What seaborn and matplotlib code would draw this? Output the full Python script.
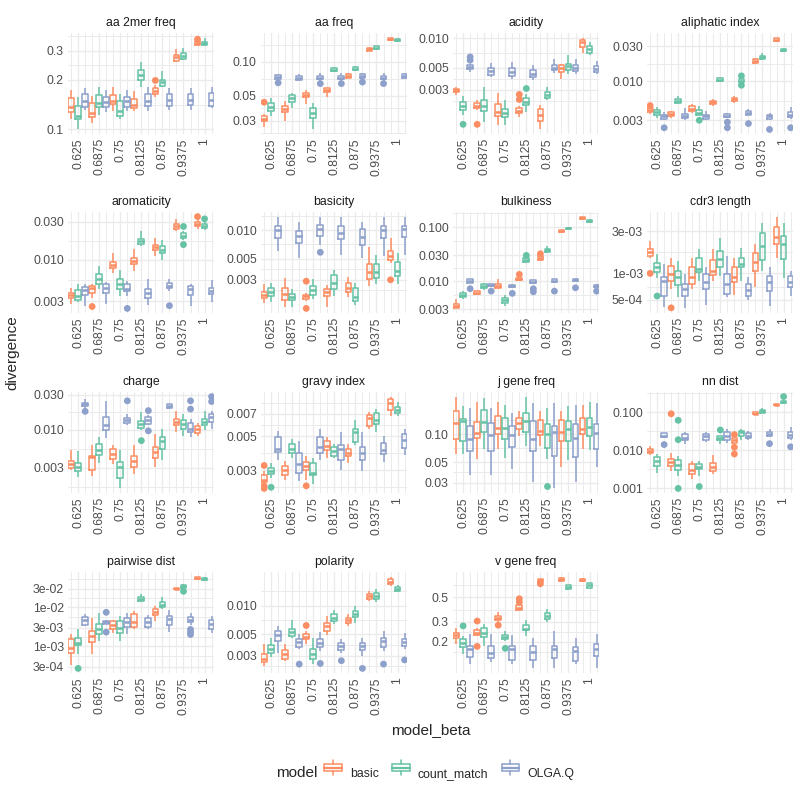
import numpy as np
import pandas as pd
import matplotlib
matplotlib.use("Agg")
import matplotlib.pyplot as plt
import seaborn as sns
from matplotlib.legend_handler import HandlerBase
from matplotlib.patches import Rectangle, Patch
from matplotlib.lines import Line2D
from matplotlib.ticker import NullFormatter

sns.set_theme(style="white")
plt.rcParams["font.family"] = ["Liberation Sans", "DejaVu Sans"]

betas = [0.625, 0.6875, 0.75, 0.8125, 0.875, 0.9375, 1.0]
beta_labels = ["0.625", "0.6875", "0.75", "0.8125", "0.875", "0.9375", "1"]
models = ["basic", "count_match", "OLGA.Q"]
colors = ["#FC8D62", "#66C2A5", "#8DA0CB"]

# each box: (lower whisker, q1, median, q3, upper whisker); one box per beta
# outliers: (model, beta, value)

aa2mer_basic = [(0.116, 0.127, 0.136, 0.155, 0.173), (0.110, 0.119, 0.126, 0.144, 0.160), (0.129, 0.143, 0.148, 0.162, 0.180), (0.129, 0.135, 0.140, 0.153, 0.172), (0.158, 0.165, 0.172, 0.177, 0.185), (0.256, 0.261, 0.274, 0.283, 0.307), (0.322, 0.324, 0.332, 0.341, 0.345)]
aa2mer_count = [(0.100, 0.115, 0.120, 0.138, 0.158), (0.123, 0.137, 0.144, 0.162, 0.180), (0.116, 0.120, 0.129, 0.148, 0.165), (0.180, 0.200, 0.213, 0.230, 0.256), (0.180, 0.183, 0.194, 0.200, 0.226), (0.262, 0.268, 0.280, 0.289, 0.310), (0.321, 0.324, 0.332, 0.338, 0.360)]
aa2mer_olga = [(0.132, 0.137, 0.148, 0.163, 0.177), (0.127, 0.137, 0.146, 0.158, 0.173), (0.129, 0.137, 0.148, 0.158, 0.173), (0.129, 0.138, 0.148, 0.163, 0.180), (0.132, 0.138, 0.150, 0.164, 0.177), (0.132, 0.141, 0.150, 0.165, 0.177), (0.134, 0.139, 0.150, 0.167, 0.181)]
aa2mer_out = [("basic", 0.875, 0.198), ("basic", 1.0, 0.352)]
aa2mer_ticks = [0.1, 0.2, 0.3]
aa2mer_labels = ["0.1", "0.2", "0.3"]

aafreq_basic = [(0.0265, 0.0297, 0.0313, 0.0329, 0.0344), (0.0297, 0.0356, 0.0383, 0.0407, 0.0453), (0.0423, 0.0484, 0.0507, 0.0531, 0.056), (0.049, 0.0542, 0.056, 0.0579, 0.059), (0.071, 0.0722, 0.075, 0.077, 0.0792), (0.123, 0.1246, 0.128, 0.1306, 0.133), (0.152, 0.154, 0.157, 0.1606, 0.163)]
aafreq_count = [(0.0333, 0.0368, 0.0401, 0.0435, 0.0474), (0.0388, 0.0444, 0.0474, 0.0507, 0.0524), (0.0252, 0.0318, 0.0351, 0.0388, 0.0429), (0.081, 0.082, 0.0847, 0.0875, 0.089), (0.0825, 0.0836, 0.0865, 0.089, 0.091), (0.129, 0.1305, 0.1332, 0.136, 0.138), (0.151, 0.153, 0.156, 0.159, 0.161)]
aafreq_olga = [(0.068, 0.070, 0.073, 0.076, 0.078), (0.067, 0.069, 0.071, 0.074, 0.078), (0.068, 0.070, 0.072, 0.075, 0.079), (0.068, 0.070, 0.072, 0.075, 0.079), (0.070, 0.071, 0.074, 0.077, 0.080), (0.068, 0.070, 0.072, 0.075, 0.079), (0.070, 0.072, 0.074, 0.077, 0.080)]
aafreq_out = [("basic", 0.625, 0.0438), ("OLGA.Q", 0.625, 0.065), ("OLGA.Q", 0.75, 0.064), ("OLGA.Q", 0.8125, 0.064), ("OLGA.Q", 0.875, 0.066), ("OLGA.Q", 0.9375, 0.064)]
aafreq_ticks = [0.03, 0.05, 0.1]
aafreq_labels = ["0.03", "0.05", "0.10"]

acid_basic = [(0.00266, 0.00287, 0.00298, 0.0031, 0.0032), (0.00188, 0.00195, 0.00206, 0.00219, 0.00237), (0.00133, 0.00164, 0.00181, 0.00216, 0.0028), (0.00161, 0.00174, 0.00184, 0.00195, 0.00206), (0.0012, 0.00147, 0.00168, 0.00191, 0.00211), (0.00385, 0.00456, 0.005, 0.00532, 0.0055), (0.0071, 0.0081, 0.0091, 0.0096, 0.0101)]
acid_count = [(0.00168, 0.00188, 0.00206, 0.00228, 0.0026), (0.00144, 0.00184, 0.00206, 0.00237, 0.00318), (0.00133, 0.00161, 0.00177, 0.00191, 0.00237), (0.00181, 0.00211, 0.00228, 0.00246, 0.00272), (0.00237, 0.00246, 0.00266, 0.00287, 0.00318), (0.00439, 0.00474, 0.0052, 0.00553, 0.0067), (0.0067, 0.00713, 0.00782, 0.0083, 0.0091)]
acid_olga = [(0.00456, 0.00485, 0.00512, 0.00532, 0.0055), (0.00406, 0.00422, 0.00467, 0.005, 0.00561), (0.0039, 0.00413, 0.00456, 0.005, 0.0057), (0.00376, 0.00406, 0.00439, 0.00481, 0.00532), (0.00445, 0.00474, 0.005, 0.00532, 0.0061), (0.00432, 0.00467, 0.005, 0.00532, 0.0061), (0.00432, 0.00456, 0.00492, 0.00524, 0.0058)]
acid_out = [("basic", 0.6875, 0.00135), ("basic", 0.8125, 0.0027), ("basic", 0.8125, 0.0024), ("count_match", 0.625, 0.00135), ("count_match", 0.8125, 0.0031), ("OLGA.Q", 0.625, 0.00645), ("OLGA.Q", 0.625, 0.00597)]
acid_ticks = [0.003, 0.005, 0.01]
acid_labels = ["0.003", "0.005", "0.010"]

aliph_basic = [(0.0037, 0.00385, 0.00418, 0.0044, 0.0045), (0.00323, 0.0034, 0.00362, 0.00385, 0.0040), (0.00377, 0.00397, 0.00431, 0.00463, 0.0050), (0.0047, 0.00503, 0.00524, 0.00551, 0.0058), (0.0051, 0.00551, 0.00574, 0.00598, 0.0063), (0.0173, 0.018, 0.0189, 0.0199, 0.021), (0.0335, 0.035, 0.0365, 0.038, 0.039)]
aliph_count = [(0.00323, 0.00358, 0.00385, 0.00418, 0.0045), (0.005, 0.00513, 0.00551, 0.00586, 0.0063), (0.0035, 0.00358, 0.00377, 0.0041, 0.0046), (0.0097, 0.010, 0.0105, 0.0111, 0.0114), (0.0094, 0.0097, 0.0102, 0.0107, 0.011), (0.0195, 0.0201, 0.0212, 0.0221, 0.024), (0.0247, 0.0255, 0.0263, 0.0271, 0.0285)]
aliph_olga = [(0.003, 0.00317, 0.0034, 0.00358, 0.0039), (0.00307, 0.00323, 0.00347, 0.00369, 0.0044), (0.003, 0.00317, 0.0034, 0.00358, 0.0040), (0.0032, 0.0033, 0.00347, 0.00365, 0.0038), (0.0035, 0.00358, 0.00377, 0.00405, 0.0042), (0.003, 0.00317, 0.0034, 0.00358, 0.0038), (0.0031, 0.00333, 0.00358, 0.00389, 0.0045)]
aliph_out = [("basic", 0.625, 0.00473), ("count_match", 0.75, 0.003), ("count_match", 0.875, 0.0119), ("count_match", 0.875, 0.0089), ("OLGA.Q", 0.625, 0.00238), ("OLGA.Q", 0.8125, 0.00283), ("OLGA.Q", 0.8125, 0.00238), ("OLGA.Q", 0.875, 0.00271), ("OLGA.Q", 0.9375, 0.00226), ("OLGA.Q", 1.0, 0.00238)]
aliph_ticks = [0.003, 0.01, 0.03]
aliph_labels = ["0.003", "0.010", "0.030"]

arom_basic = [(0.00275, 0.00324, 0.00356, 0.00385, 0.00444), (0.00333, 0.00385, 0.00436, 0.00466, 0.0049), (0.00683, 0.00773, 0.0085, 0.0093, 0.0121), (0.00716, 0.00866, 0.0095, 0.0105, 0.0136), (0.0110, 0.0131, 0.0144, 0.0154, 0.0186), (0.0230, 0.0243, 0.026, 0.0278, 0.0321), (0.0243, 0.0267, 0.0278, 0.0292, 0.0321)]
arom_count = [(0.00289, 0.00309, 0.0035, 0.0041, 0.0049), (0.00423, 0.00489, 0.00564, 0.0065, 0.00826), (0.00343, 0.00431, 0.00489, 0.00575, 0.00729), (0.0147, 0.0158, 0.0169, 0.01825, 0.0225), (0.010, 0.0119, 0.0133, 0.0147, 0.0177), (0.0177, 0.0186, 0.0199, 0.0215, 0.0225), (0.0236, 0.0248, 0.026, 0.0278, 0.0292)]
arom_olga = [(0.00263, 0.00356, 0.0041, 0.00453, 0.00489), (0.0028, 0.00385, 0.00444, 0.00489, 0.0052), (0.0035, 0.0040, 0.00432, 0.00489, 0.0054), (0.00267, 0.00333, 0.00377, 0.00432, 0.00575), (0.004, 0.00436, 0.00466, 0.00504, 0.00575), (0.00257, 0.00356, 0.00423, 0.00466, 0.0049), (0.00289, 0.00367, 0.0040, 0.00444, 0.00548)]
arom_out = [("basic", 0.6875, 0.00257), ("basic", 1.0, 0.0346), ("count_match", 0.9375, 0.026), ("count_match", 0.9375, 0.0154), ("count_match", 1.0, 0.0324), ("OLGA.Q", 0.75, 0.00243), ("OLGA.Q", 0.875, 0.00263)]
arom_ticks = [0.003, 0.01, 0.03]
arom_labels = ["0.003", "0.010", "0.030"]

basic_basic = [(0.00171, 0.00194, 0.00208, 0.00226, 0.00274), (0.00157, 0.00184, 0.00214, 0.00246, 0.0031), (0.0018, 0.00189, 0.00202, 0.00208, 0.0022), (0.00154, 0.00205, 0.00223, 0.0024, 0.00263), (0.00197, 0.00223, 0.00248, 0.00278, 0.00323), (0.00258, 0.00305, 0.00365, 0.00438, 0.00662), (0.00449, 0.00488, 0.00538, 0.006, 0.0083)]
basic_count = [(0.00174, 0.00202, 0.00223, 0.00246, 0.00278), (0.00157, 0.00184, 0.002, 0.00214, 0.0024), (0.00189, 0.00208, 0.00232, 0.00256, 0.00305), (0.00202, 0.00238, 0.00281, 0.00336, 0.00381), (0.00163, 0.00181, 0.002, 0.00246, 0.00278), (0.00274, 0.00315, 0.00365, 0.00438, 0.00552), (0.00274, 0.00331, 0.0037, 0.0046, 0.0058)]
basic_olga = [(0.006, 0.0082, 0.01, 0.0111, 0.0139), (0.00508, 0.00737, 0.0087, 0.0098, 0.0121), (0.0069, 0.0087, 0.0102, 0.0113, 0.0137), (0.0055, 0.008, 0.0094, 0.0111, 0.0137), (0.00508, 0.00695, 0.0085, 0.0104, 0.0121), (0.0053, 0.0083, 0.01, 0.0111, 0.0137), (0.0055, 0.0085, 0.0102, 0.0111, 0.0137)]
basic_out = [("basic", 0.75, 0.0029), ("basic", 0.75, 0.0015), ("basic", 1.0, 0.003), ("OLGA.Q", 0.75, 0.00585)]
basic_ticks = [0.003, 0.005, 0.01]
basic_labels = ["0.003", "0.005", "0.010"]

bulk_basic = [(0.0031, 0.0032, 0.00344, 0.0037, 0.00457), (0.0054, 0.00566, 0.00608, 0.00653, 0.0068), (0.0070, 0.00731, 0.00807, 0.00867, 0.011), (0.0100, 0.0103, 0.0110, 0.01153, 0.012), (0.0234, 0.0245, 0.027, 0.029, 0.030), (0.080, 0.082, 0.0855, 0.088, 0.090), (0.142, 0.1447, 0.151, 0.155, 0.158)]
bulk_count = [(0.0047, 0.00513, 0.00558, 0.00608, 0.0065), (0.0068, 0.00731, 0.0080, 0.00867, 0.0093), (0.0034, 0.00386, 0.00438, 0.00491, 0.0054), (0.0215, 0.0225, 0.0245, 0.027, 0.0285), (0.0335, 0.0344, 0.037, 0.0397, 0.044), (0.090, 0.092, 0.095, 0.098, 0.100), (0.122, 0.1255, 0.131, 0.139, 0.142)]
bulk_olga = [(0.0091, 0.0093, 0.01, 0.0107, 0.0108), (0.0080, 0.0081, 0.0085, 0.0089, 0.009), (0.0076, 0.0078, 0.0081, 0.0085, 0.0087), (0.0092, 0.0093, 0.0098, 0.0105, 0.0106), (0.0095, 0.0096, 0.0102, 0.0107, 0.0108), (0.0099, 0.0101, 0.0106, 0.011, 0.0112), (0.0077, 0.0078, 0.0082, 0.0085, 0.0087)]
bulk_out = [("basic", 0.8125, 0.0133), ("basic", 0.875, 0.0322), ("count_match", 0.8125, 0.030), ("OLGA.Q", 0.625, 0.0072), ("OLGA.Q", 0.6875, 0.0065), ("OLGA.Q", 0.75, 0.0059), ("OLGA.Q", 0.8125, 0.0072), ("OLGA.Q", 0.8125, 0.0063), ("OLGA.Q", 0.875, 0.0065), ("OLGA.Q", 0.9375, 0.0075), ("OLGA.Q", 1.0, 0.0065)]
bulk_ticks = [0.003, 0.01, 0.03, 0.1]
bulk_labels = ["0.003", "0.010", "0.030", "0.100"]

cdr3_basic = [(1.51e-3, 1.58e-3, 1.76e-3, 1.9e-3, 2.32e-3), (0.668e-3, 0.83e-3, 0.98e-3, 1.22e-3, 1.51e-3), (0.668e-3, 0.76e-3, 0.90e-3, 1.17e-3, 1.51e-3), (0.83e-3, 0.96e-3, 1.07e-3, 1.42e-3, 1.87e-3), (0.57e-3, 0.79e-3, 0.90e-3, 1.17e-3, 1.51e-3), (0.70e-3, 1.07e-3, 1.33e-3, 1.72e-3, 2.13e-3), (1.51e-3, 2.13e-3, 2.57e-3, 3.41e-3, 4.42e-3)]
cdr3_count = [(0.88e-3, 1.03e-3, 1.17e-3, 1.31e-3, 1.65e-3), (0.54e-3, 0.73e-3, 0.90e-3, 1.07e-3, 1.39e-3), (0.83e-3, 1.03e-3, 1.12e-3, 1.51e-3, 1.90e-3), (0.94e-3, 1.17e-3, 1.45e-3, 1.79e-3, 2.53e-3), (0.83e-3, 1.17e-3, 1.27e-3, 1.51e-3, 1.95e-3), (1.07e-3, 1.42e-3, 2.04e-3, 2.88e-3, 3.72e-3), (0.88e-3, 1.47e-3, 2.13e-3, 2.69e-3, 3.72e-3)]
cdr3_olga = [(0.42e-3, 0.56e-3, 0.83e-3, 0.90e-3, 1.27e-3), (0.40e-3, 0.55e-3, 0.668e-3, 0.76e-3, 0.98e-3), (0.435e-3, 0.668e-3, 0.79e-3, 0.98e-3, 1.17e-3), (0.54e-3, 0.587e-3, 0.76e-3, 0.98e-3, 1.58e-3), (0.494e-3, 0.56e-3, 0.64e-3, 0.76e-3, 0.90e-3), (0.427e-3, 0.623e-3, 0.79e-3, 0.925e-3, 1.17e-3), (0.553e-3, 0.70e-3, 0.79e-3, 0.94e-3, 1.07e-3)]
cdr3_out = [("basic", 0.625, 1.0e-3), ("basic", 0.6875, 0.406e-3), ("count_match", 0.625, 0.553e-3)]
cdr3_ticks = [5e-4, 1e-3, 3e-3]
cdr3_labels = ["5e-04", "1e-03", "3e-03"]

charge_basic = [(0.00281, 0.00302, 0.00341, 0.00378, 0.0053), (0.00234, 0.00278, 0.00421, 0.00432, 0.00618), (0.00335, 0.0040, 0.0047, 0.00547, 0.00618), (0.00246, 0.0031, 0.0037, 0.00441, 0.00618), (0.0031, 0.0041, 0.0049, 0.00587, 0.0088), (0.0093, 0.0114, 0.0126, 0.014, 0.0181), (0.0081, 0.009, 0.0103, 0.0111, 0.0123)]
charge_count = [(0.00229, 0.00272, 0.0031, 0.00345, 0.00504), (0.0035, 0.00455, 0.0053, 0.0063, 0.0078), (0.00158, 0.00218, 0.0031, 0.00359, 0.0053), (0.0098, 0.0106, 0.012, 0.0129, 0.0172), (0.0038, 0.0054, 0.00699, 0.0078, 0.0103), (0.0081, 0.0103, 0.012, 0.0136, 0.0163), (0.010, 0.0114, 0.0126, 0.014, 0.0177)]
charge_olga = [(0.0198, 0.0209, 0.0222, 0.0231, 0.0259), (0.0076, 0.010, 0.0114, 0.0148, 0.0246), (0.0114, 0.0123, 0.0133, 0.0145, 0.0163), (0.0114, 0.012, 0.0133, 0.0147, 0.016), (0.019, 0.0196, 0.0211, 0.0222, 0.0226), (0.0078, 0.0093, 0.0103, 0.0123, 0.014), (0.0103, 0.0126, 0.0148, 0.0163, 0.018)]
charge_out = [("count_match", 0.8125, 0.00706), ("OLGA.Q", 0.625, 0.0177), ("OLGA.Q", 0.75, 0.0246), ("OLGA.Q", 0.8125, 0.0181), ("OLGA.Q", 0.8125, 0.0096), ("OLGA.Q", 0.9375, 0.0246), ("OLGA.Q", 0.9375, 0.019), ("OLGA.Q", 1.0, 0.0281), ("OLGA.Q", 1.0, 0.0241)]
charge_ticks = [0.003, 0.01, 0.03]
charge_labels = ["0.003", "0.010", "0.030"]

gravy_basic = [(0.00245, 0.0025, 0.0026, 0.0028, 0.00295), (0.0026, 0.00277, 0.003, 0.0032, 0.00345), (0.0026, 0.0030, 0.0032, 0.00342, 0.00369), (0.00358, 0.00405, 0.00435, 0.00469, 0.00493), (0.00333, 0.00369, 0.00386, 0.00415, 0.00446), (0.00559, 0.00585, 0.00662, 0.00694, 0.00717), (0.00675, 0.00744, 0.0083, 0.00884, 0.0091)]
gravy_count = [(0.00268, 0.00282, 0.00296, 0.0031, 0.00333), (0.00358, 0.00386, 0.00415, 0.00446, 0.0048), (0.00245, 0.00277, 0.00288, 0.00333, 0.00358), (0.00358, 0.00373, 0.004, 0.00425, 0.00446), (0.00441, 0.00458, 0.00537, 0.00559, 0.00644), (0.00532, 0.006, 0.00644, 0.0071, 0.00753), (0.0068, 0.0071, 0.00744, 0.00782, 0.0084)]
gravy_olga = [(0.0035, 0.00396, 0.00415, 0.00493, 0.00543), (0.00256, 0.00288, 0.00329, 0.00386, 0.00469), (0.0035, 0.00386, 0.00425, 0.00493, 0.00562), (0.003, 0.0035, 0.00415, 0.00441, 0.00532), (0.00296, 0.0035, 0.00386, 0.00425, 0.00532), (0.0034, 0.00381, 0.00409, 0.00454, 0.005), (0.0038, 0.0042, 0.0047, 0.0052, 0.0056)]
gravy_out = [("basic", 0.625, 0.00322), ("basic", 0.625, 0.00237), ("basic", 0.625, 0.00228), ("basic", 0.75, 0.00237), ("count_match", 0.625, 0.00232)]
gravy_ticks = [0.003, 0.005, 0.007]
gravy_labels = ["0.003", "0.005", "0.007"]

jgene_basic = [(0.0612, 0.0899, 0.133, 0.177, 0.256), (0.0542, 0.0922, 0.104, 0.135, 0.226), (0.0693, 0.10, 0.118, 0.157, 0.226), (0.096, 0.113, 0.133, 0.150, 0.177), (0.0751, 0.0976, 0.108, 0.141, 0.177), (0.0442, 0.0849, 0.106, 0.144, 0.177), (0.0693, 0.10, 0.115, 0.150, 0.208)]
jgene_count = [(0.0612, 0.0849, 0.139, 0.147, 0.20), (0.0693, 0.106, 0.135, 0.185, 0.245), (0.0551, 0.0899, 0.118, 0.150, 0.208), (0.0751, 0.106, 0.139, 0.170, 0.256), (0.0542, 0.0704, 0.10, 0.1277, 0.192), (0.052, 0.0849, 0.115, 0.139, 0.20), (0.0676, 0.096, 0.121, 0.150, 0.226)]
jgene_olga = [(0.036, 0.0665, 0.0885, 0.1226, 0.192), (0.036, 0.0665, 0.0976, 0.133, 0.192), (0.0424, 0.0721, 0.0976, 0.1226, 0.170), (0.0306, 0.0665, 0.0899, 0.139, 0.217), (0.0259, 0.0588, 0.106, 0.1226, 0.217), (0.0306, 0.0565, 0.0922, 0.1277, 0.208), (0.0442, 0.0693, 0.104, 0.1277, 0.217)]
jgene_out = [("count_match", 0.875, 0.0277)]
jgene_ticks = [0.03, 0.05, 0.1]
jgene_labels = ["0.03", "0.05", "0.10"]

nn_basic = [(0.0074, 0.0082, 0.0094, 0.0110, 0.0129), (0.00279, 0.00389, 0.00473, 0.0058, 0.0082), (0.0017, 0.00242, 0.00307, 0.00438, 0.00503), (0.00229, 0.00279, 0.00359, 0.00455, 0.0074), (0.0145, 0.0151, 0.018, 0.0203, 0.021), (0.085, 0.0873, 0.092, 0.10, 0.103), (0.148, 0.150, 0.157, 0.164, 0.168)]
nn_count = [(0.00252, 0.00389, 0.0052, 0.00675, 0.0079), (0.00207, 0.00295, 0.0041, 0.0055, 0.0070), (0.00207, 0.0032, 0.00359, 0.0043, 0.0053), (0.0148, 0.018, 0.0207, 0.0229, 0.0242), (0.0188, 0.0242, 0.0295, 0.0326, 0.036), (0.093, 0.0966, 0.106, 0.117, 0.125), (0.17, 0.1735, 0.184, 0.20, 0.21)]
nn_olga = [(0.0215, 0.022, 0.0242, 0.0278, 0.029), (0.0148, 0.018, 0.0211, 0.0268, 0.0295), (0.0163, 0.0188, 0.0242, 0.0268, 0.0295), (0.0154, 0.018, 0.0242, 0.0295, 0.036), (0.018, 0.0211, 0.0242, 0.0278, 0.0326), (0.022, 0.0242, 0.0268, 0.0295, 0.036), (0.0188, 0.0211, 0.0257, 0.0295, 0.0397)]
nn_out = [("basic", 0.6875, 0.0906), ("basic", 0.875, 0.0257), ("basic", 0.875, 0.0119), ("basic", 0.875, 0.0079), ("count_match", 0.6875, 0.061), ("count_match", 0.6875, 0.0188), ("count_match", 0.6875, 0.00098), ("count_match", 0.75, 0.0011), ("count_match", 0.8125, 0.0339), ("count_match", 1.0, 0.257), ("OLGA.Q", 0.625, 0.014), ("OLGA.Q", 0.9375, 0.0148), ("OLGA.Q", 1.0, 0.0122)]
nn_ticks = [0.001, 0.01, 0.1]
nn_labels = ["0.001", "0.010", "0.100"]

pair_basic = [(3.4e-4, 6.8e-4, 9.2e-4, 1.49e-3, 2.0e-3), (6.2e-4, 1.28e-3, 1.82e-3, 2.44e-3, 5.3e-3), (2.2e-3, 2.8e-3, 3.4e-3, 4.4e-3, 4.8e-3), (2.7e-3, 3.15e-3, 4.1e-3, 6.9e-3, 7.9e-3), (4.4e-3, 6.5e-3, 7.6e-3, 9.1e-3, 1.1e-2), (2.75e-2, 2.85e-2, 3.0e-2, 3.1e-2, 3.2e-2), (5.2e-2, 5.3e-2, 5.6e-2, 5.95e-2, 6.1e-2)]
pair_count = [(6.2e-4, 1.05e-3, 1.18e-3, 1.65e-3, 2.7e-3), (1.35e-3, 2.1e-3, 2.8e-3, 3.75e-3, 7.2e-3), (1.35e-3, 2.2e-3, 3.0e-3, 4.4e-3, 5.9e-3), (1.34e-2, 1.42e-2, 1.63e-2, 1.84e-2, 2.2e-2), (9.0e-3, 1.02e-2, 1.17e-2, 1.34e-2, 1.8e-2), (2.9e-2, 3.1e-2, 3.4e-2, 3.8e-2, 4.0e-2), (4.8e-2, 4.9e-2, 5.3e-2, 5.6e-2, 5.8e-2)]
pair_olga = [(3.3e-3, 3.6e-3, 4.65e-3, 5.55e-3, 6.9e-3), (3.7e-3, 3.8e-3, 4.1e-3, 4.4e-3, 4.6e-3), (2.0e-3, 3.15e-3, 4.1e-3, 5.3e-3, 7.2e-3), (2.7e-3, 3.15e-3, 4.1e-3, 5.3e-3, 6.5e-3), (2.3e-3, 3.6e-3, 4.85e-3, 5.9e-3, 8.4e-3), (3.5e-3, 4.1e-3, 4.65e-3, 5.55e-3, 7.2e-3), (2.2e-3, 2.8e-3, 3.75e-3, 4.65e-3, 6.1e-3)]
pair_out = [("count_match", 0.625, 2.7e-4), ("count_match", 0.9375, 2.56e-2), ("OLGA.Q", 0.6875, 7.4e-3), ("OLGA.Q", 0.6875, 2.3e-3), ("OLGA.Q", 0.9375, 2.7e-3), ("OLGA.Q", 0.9375, 2.3e-3), ("OLGA.Q", 0.9375, 2.0e-3)]
pair_ticks = [3e-4, 1e-3, 3e-3, 1e-2, 3e-2]
pair_labels = ["3e-04", "1e-03", "3e-03", "1e-02", "3e-02"]

polar_basic = [(0.00231, 0.00254, 0.00279, 0.0031, 0.00394), (0.00264, 0.00275, 0.0031, 0.00344, 0.00394), (0.00394, 0.00444, 0.00469, 0.005, 0.0054), (0.00488, 0.0054, 0.0061, 0.0066, 0.0078), (0.0062, 0.0066, 0.00704, 0.00745, 0.0081), (0.0111, 0.0117, 0.0125, 0.0132, 0.0144), (0.0161, 0.0168, 0.0179, 0.0189, 0.0202)]
polar_count = [(0.00287, 0.00322, 0.00355, 0.00385, 0.00462), (0.00462, 0.0048, 0.00533, 0.0057, 0.00716), (0.00244, 0.00275, 0.0031, 0.00355, 0.00462), (0.0065, 0.00688, 0.00745, 0.0081, 0.0091), (0.0066, 0.0076, 0.0082, 0.0087, 0.010), (0.0109, 0.0117, 0.0127, 0.0135, 0.0149), (0.0138, 0.0144, 0.0151, 0.0159, 0.0165)]
polar_olga = [(0.00322, 0.00426, 0.00488, 0.0054, 0.0062), (0.0035, 0.00372, 0.00416, 0.00451, 0.005), (0.00336, 0.00372, 0.0041, 0.00444, 0.0053), (0.00322, 0.00344, 0.00378, 0.0041, 0.00451), (0.00294, 0.00344, 0.00378, 0.0041, 0.0046), (0.00336, 0.00372, 0.00426, 0.00462, 0.0054), (0.0035, 0.0038, 0.0042, 0.0045, 0.0052)]
polar_out = [("basic", 0.75, 0.0062), ("OLGA.Q", 0.6875, 0.00244), ("OLGA.Q", 0.75, 0.00248), ("OLGA.Q", 0.8125, 0.00265), ("OLGA.Q", 0.875, 0.0022), ("OLGA.Q", 0.9375, 0.00244), ("OLGA.Q", 1.0, 0.0027)]
polar_ticks = [0.003, 0.005, 0.01]
polar_labels = ["0.003", "0.005", "0.010"]

vgene_basic = [(0.191, 0.218, 0.2305, 0.2415, 0.267), (0.226, 0.2305, 0.2415, 0.2553, 0.267), (0.295, 0.313, 0.324, 0.34, 0.368), (0.375, 0.3835, 0.4035, 0.4216, 0.43), (0.675, 0.686, 0.707, 0.72, 0.73), (0.68, 0.693, 0.717, 0.742, 0.76), (0.685, 0.693, 0.707, 0.72, 0.74)]
vgene_count = [(0.155, 0.178, 0.1945, 0.211, 0.2255), (0.184, 0.2185, 0.238, 0.267, 0.286), (0.204, 0.211, 0.221, 0.2305, 0.25), (0.226, 0.2525, 0.262, 0.281, 0.31), (0.30, 0.318, 0.34, 0.363, 0.394), (0.583, 0.593, 0.613, 0.634, 0.645), (0.593, 0.605, 0.634, 0.661, 0.672)]
vgene_olga = [(0.127, 0.148, 0.172, 0.184, 0.237), (0.131, 0.145, 0.160, 0.184, 0.234), (0.127, 0.139, 0.172, 0.184, 0.230), (0.118, 0.139, 0.163, 0.182, 0.218), (0.116, 0.145, 0.172, 0.184, 0.25), (0.127, 0.136, 0.1665, 0.178, 0.214), (0.116, 0.151, 0.172, 0.190, 0.237)]
vgene_out = [("basic", 0.6875, 0.306), ("basic", 0.6875, 0.182), ("basic", 0.75, 0.281), ("basic", 0.8125, 0.483), ("basic", 0.8125, 0.451), ("basic", 0.875, 0.656), ("count_match", 0.625, 0.277), ("count_match", 0.75, 0.175)]
vgene_ticks = [0.2, 0.3, 0.5]
vgene_labels = ["0.2", "0.3", "0.5"]

panels = [
    ("aa 2mer freq", aa2mer_basic, aa2mer_count, aa2mer_olga, aa2mer_out, aa2mer_ticks, aa2mer_labels),
    ("aa freq", aafreq_basic, aafreq_count, aafreq_olga, aafreq_out, aafreq_ticks, aafreq_labels),
    ("acidity", acid_basic, acid_count, acid_olga, acid_out, acid_ticks, acid_labels),
    ("aliphatic index", aliph_basic, aliph_count, aliph_olga, aliph_out, aliph_ticks, aliph_labels),
    ("aromaticity", arom_basic, arom_count, arom_olga, arom_out, arom_ticks, arom_labels),
    ("basicity", basic_basic, basic_count, basic_olga, basic_out, basic_ticks, basic_labels),
    ("bulkiness", bulk_basic, bulk_count, bulk_olga, bulk_out, bulk_ticks, bulk_labels),
    ("cdr3 length", cdr3_basic, cdr3_count, cdr3_olga, cdr3_out, cdr3_ticks, cdr3_labels),
    ("charge", charge_basic, charge_count, charge_olga, charge_out, charge_ticks, charge_labels),
    ("gravy index", gravy_basic, gravy_count, gravy_olga, gravy_out, gravy_ticks, gravy_labels),
    ("j gene freq", jgene_basic, jgene_count, jgene_olga, jgene_out, jgene_ticks, jgene_labels),
    ("nn dist", nn_basic, nn_count, nn_olga, nn_out, nn_ticks, nn_labels),
    ("pairwise dist", pair_basic, pair_count, pair_olga, pair_out, pair_ticks, pair_labels),
    ("polarity", polar_basic, polar_count, polar_olga, polar_out, polar_ticks, polar_labels),
    ("v gene freq", vgene_basic, vgene_count, vgene_olga, vgene_out, vgene_ticks, vgene_labels),
]

# dodge: three models side by side inside each beta step
step = (betas[1] - betas[0]) / 3
offset = {m: (i - 1) * step for i, m in enumerate(models)}
grid_col = "#EBEBEB"


class BoxKey(HandlerBase):
    # legend key drawn like a ggplot boxplot glyph
    def create_artists(self, legend, orig_handle, x0, y0, width, height, fontsize, trans):
        c = orig_handle.get_edgecolor()
        xa, xb = x0 + 0.05 * width, x0 + 0.95 * width
        xm = x0 + width / 2
        ya, yb = y0 + 0.22 * height, y0 + 0.78 * height
        rect = Rectangle((xa, ya), xb - xa, yb - ya, facecolor="none", edgecolor=c, lw=1.1, transform=trans)
        med = Line2D([xa, xb], [y0 + height / 2] * 2, color=c, lw=1.6, transform=trans)
        w1 = Line2D([xm, xm], [y0 - 0.05 * height, ya], color=c, lw=1.1, transform=trans)
        w2 = Line2D([xm, xm], [yb, y0 + 1.05 * height], color=c, lw=1.1, transform=trans)
        return [rect, med, w1, w2]


fig = plt.figure(figsize=(8, 8), dpi=100)
lefts = [68, 261, 453, 647]
tops = [33, 212, 392, 572]
pw, ph = 146, 101

for k, (title, b, c, o, out, ticks, labels) in enumerate(panels):
    r, col = divmod(k, 4)
    ax = fig.add_axes([lefts[col] / 800, 1 - (tops[r] + ph) / 800, pw / 800, ph / 800])

    rows = []
    for m, stats in zip(models, (b, c, o)):
        for beta, five in zip(betas, stats):
            for v in five:
                rows.append((m, beta + offset[m], v))
    box = pd.DataFrame(rows, columns=["model", "xpos", "value"])

    sns.boxplot(data=box, x="xpos", y="value", hue="model", hue_order=models,
                palette=colors, native_scale=True, dodge=False, fill=False,
                whis=np.inf, width=0.82, linewidth=1.1, showcaps=False,
                medianprops={"linewidth": 1.8}, log_scale=(False, True),
                legend=False, ax=ax)

    if out:
        od = pd.DataFrame(out, columns=["model", "beta", "value"])
        od["xpos"] = od["beta"] + od["model"].map(offset)
        sns.scatterplot(data=od, x="xpos", y="value", hue="model", hue_order=models,
                        palette=colors, s=24, linewidth=0, legend=False, ax=ax, zorder=3)

    # vertical grid at every box position (majors at the betas)
    ax.set_xticks(betas)
    ax.set_xticklabels(beta_labels, rotation=90)
    xminor = [x + d for x in betas for d in (-step, step)]
    ax.set_xticks(xminor, minor=True)
    ax.xaxis.set_minor_formatter(NullFormatter())
    ax.set_xlim(0.595, 1.028)

    ylim = ax.get_ylim()
    lt = np.log10(ticks)
    mids = [(lt[i] + lt[i + 1]) / 2 for i in range(len(lt) - 1)]
    mids = [lt[0] - (lt[1] - lt[0]) / 2] + mids + [lt[-1] + (lt[-1] - lt[-2]) / 2]
    ax.set_yticks(ticks)
    ax.set_yticklabels(labels)
    ax.set_yticks([10 ** m for m in mids], minor=True)
    ax.yaxis.set_minor_formatter(NullFormatter())
    ax.set_ylim(ylim)

    ax.grid(which="major", color=grid_col, linewidth=1.0)
    ax.grid(which="minor", color=grid_col, linewidth=0.7)
    ax.set_axisbelow(True)
    for s in ax.spines.values():
        s.set_visible(False)
    ax.tick_params(which="both", length=0, labelsize=8.8, labelcolor="#4D4D4D", pad=3)
    ax.set_xlabel("")
    ax.set_ylabel("")
    ax.set_title(title, fontsize=8.8, color="#1A1A1A", pad=5)

fig.text(12 / 800, 1 - 353 / 800, "divergence", rotation=90, fontsize=11, ha="center", va="center")
fig.text(431 / 800, 1 - 730 / 800, "model_beta", fontsize=11, ha="center", va="center")
fig.text(317 / 800, 1 - 773 / 800, "model", fontsize=11, ha="right", va="center")

handles = [Patch(facecolor="none", edgecolor=cc) for cc in colors]
fig.legend(handles, models, handler_map={Patch: BoxKey()}, loc="center left",
           bbox_to_anchor=(323 / 800, 1 - 773 / 800), ncol=3, frameon=False,
           fontsize=8.8, handlelength=1.6, handleheight=1.3, handletextpad=0.6,
           columnspacing=1.0, borderaxespad=0, borderpad=0)

fig.savefig("out.png", dpi=100, facecolor="white")
